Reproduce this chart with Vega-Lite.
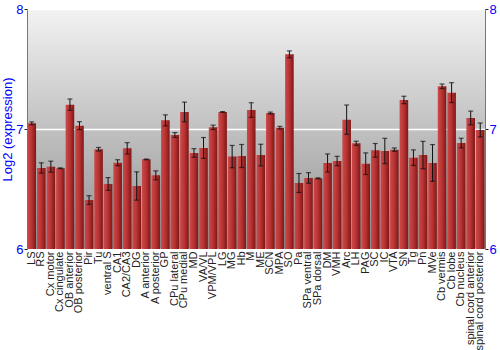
{
  "$schema": "https://vega.github.io/schema/vega-lite/v6.json",
  "width": 458,
  "height": 240,
  "autosize": {"type": "none"},
  "padding": {"left": 27, "top": 9, "right": 15, "bottom": 101},
  "background": "white",
  "config": {
    "font": "Liberation Sans",
    "view": {
      "stroke": "#777777",
      "strokeWidth": 1,
      "fill": {"gradient": "linear", "x1": 0, "y1": 0, "x2": 0, "y2": 1,
        "stops": [{"offset": 0, "color": "#f2f2f2"}, {"offset": 1, "color": "#8f8f8f"}]}
    }
  },
  "data": {"values": [
    {"region": "LS", "value": 7.047, "err": 0.012},
    {"region": "RS", "value": 6.675, "err": 0.043},
    {"region": "Cx motor", "value": 6.686, "err": 0.046},
    {"region": "Cx cingulate", "value": 6.673, "err": 0.003},
    {"region": "OB anterior", "value": 7.203, "err": 0.047},
    {"region": "OB posterior", "value": 7.028, "err": 0.033},
    {"region": "Pir", "value": 6.408, "err": 0.036},
    {"region": "Tu", "value": 6.831, "err": 0.015},
    {"region": "ventral S", "value": 6.542, "err": 0.053},
    {"region": "CA1", "value": 6.719, "err": 0.025},
    {"region": "CA2/CA3", "value": 6.839, "err": 0.047},
    {"region": "DG", "value": 6.525, "err": 0.118},
    {"region": "A anterior", "value": 6.747, "err": 0.003},
    {"region": "A posterior", "value": 6.614, "err": 0.037},
    {"region": "GP", "value": 7.072, "err": 0.046},
    {"region": "CPu lateral", "value": 6.95, "err": 0.02},
    {"region": "CPu medial", "value": 7.142, "err": 0.082},
    {"region": "MD", "value": 6.8, "err": 0.036},
    {"region": "VA/VL", "value": 6.842, "err": 0.087},
    {"region": "VPM/VPL", "value": 7.014, "err": 0.018},
    {"region": "LG", "value": 7.142, "err": 0.003},
    {"region": "MG", "value": 6.77, "err": 0.093},
    {"region": "Hb", "value": 6.775, "err": 0.096},
    {"region": "M", "value": 7.158, "err": 0.061},
    {"region": "ME", "value": 6.783, "err": 0.09},
    {"region": "SCN", "value": 7.133, "err": 0.008},
    {"region": "MPA", "value": 7.011, "err": 0.011},
    {"region": "SO", "value": 7.622, "err": 0.029},
    {"region": "Pa", "value": 6.55, "err": 0.079},
    {"region": "SPa ventral", "value": 6.592, "err": 0.044},
    {"region": "SPa dorsal", "value": 6.589, "err": 0.004},
    {"region": "DM", "value": 6.717, "err": 0.075},
    {"region": "VMH", "value": 6.733, "err": 0.039},
    {"region": "Arc", "value": 7.078, "err": 0.122},
    {"region": "LH", "value": 6.881, "err": 0.017},
    {"region": "PAG", "value": 6.711, "err": 0.09},
    {"region": "SC", "value": 6.822, "err": 0.057},
    {"region": "IC", "value": 6.817, "err": 0.105},
    {"region": "VTA", "value": 6.828, "err": 0.014},
    {"region": "SN", "value": 7.242, "err": 0.031},
    {"region": "Tg", "value": 6.761, "err": 0.065},
    {"region": "Pn", "value": 6.783, "err": 0.114},
    {"region": "MVe", "value": 6.717, "err": 0.153},
    {"region": "Cb vermis", "value": 7.356, "err": 0.019},
    {"region": "Cb lobe", "value": 7.303, "err": 0.083},
    {"region": "Cb nucleus", "value": 6.883, "err": 0.04},
    {"region": "spinal cord anterior", "value": 7.092, "err": 0.057},
    {"region": "spinal cord posterior", "value": 6.992, "err": 0.058}
  ]},
  "encoding": {
    "x": {
      "field": "region", "type": "nominal", "sort": null,
      "scale": {"paddingInner": 0.1, "paddingOuter": 0.05},
      "axis": {
        "title": null, "labelAngle": -90, "labelFontSize": 11, "labelColor": "#222222",
        "ticks": false, "domain": false, "labelPadding": 2
      }
    }
  },
  "layer": [
    {
      "mark": {
        "type": "bar", "clip": true,
        "fill": {"gradient": "linear", "x1": 0, "y1": 0, "x2": 1, "y2": 0,
          "stops": [{"offset": 0, "color": "#cc4a4a"}, {"offset": 0.5, "color": "#b83232"}, {"offset": 1, "color": "#7e1616"}]}
      },
      "encoding": {
        "y": {
          "field": "value", "type": "quantitative",
          "scale": {"domain": [6, 8], "zero": false, "nice": false},
          "axis": {
            "title": "Log2 (expression)", "titleColor": "#0000ff", "titleFontSize": 13, "titleFontWeight": "normal",
            "titlePadding": 1, "format": ".0f",
            "values": [6, 7, 8], "labelColor": "#0000ff", "labelFontSize": 13, "labelPadding": 1,
            "tickColor": "#222222", "tickSize": 3, "domain": false,
            "grid": true, "gridColor": "#ffffff", "gridWidth": 1.5
          }
        },
        "y2": {"datum": 6}
      }
    },
    {
      "mark": {"type": "errorbar", "ticks": {"size": 5, "color": "#111111", "thickness": 1.2}, "rule": {"color": "#111111", "strokeWidth": 1}},
      "encoding": {
        "y": {"field": "value", "type": "quantitative", "axis": null},
        "yError": {"field": "err"}
      }
    },
    {
      "mark": {"type": "rule", "opacity": 0},
      "encoding": {
        "y": {
          "field": "value", "type": "quantitative",
          "axis": {
            "orient": "right", "title": null, "values": [6, 7, 8], "format": ".0f", "labelColor": "#0000ff", "labelFontSize": 13,
            "labelPadding": 1, "tickColor": "#222222", "tickSize": 3, "domain": false, "grid": false
          }
        }
      }
    }
  ],
  "resolve": {"scale": {"y": "shared"}, "axis": {"y": "independent"}}
}
